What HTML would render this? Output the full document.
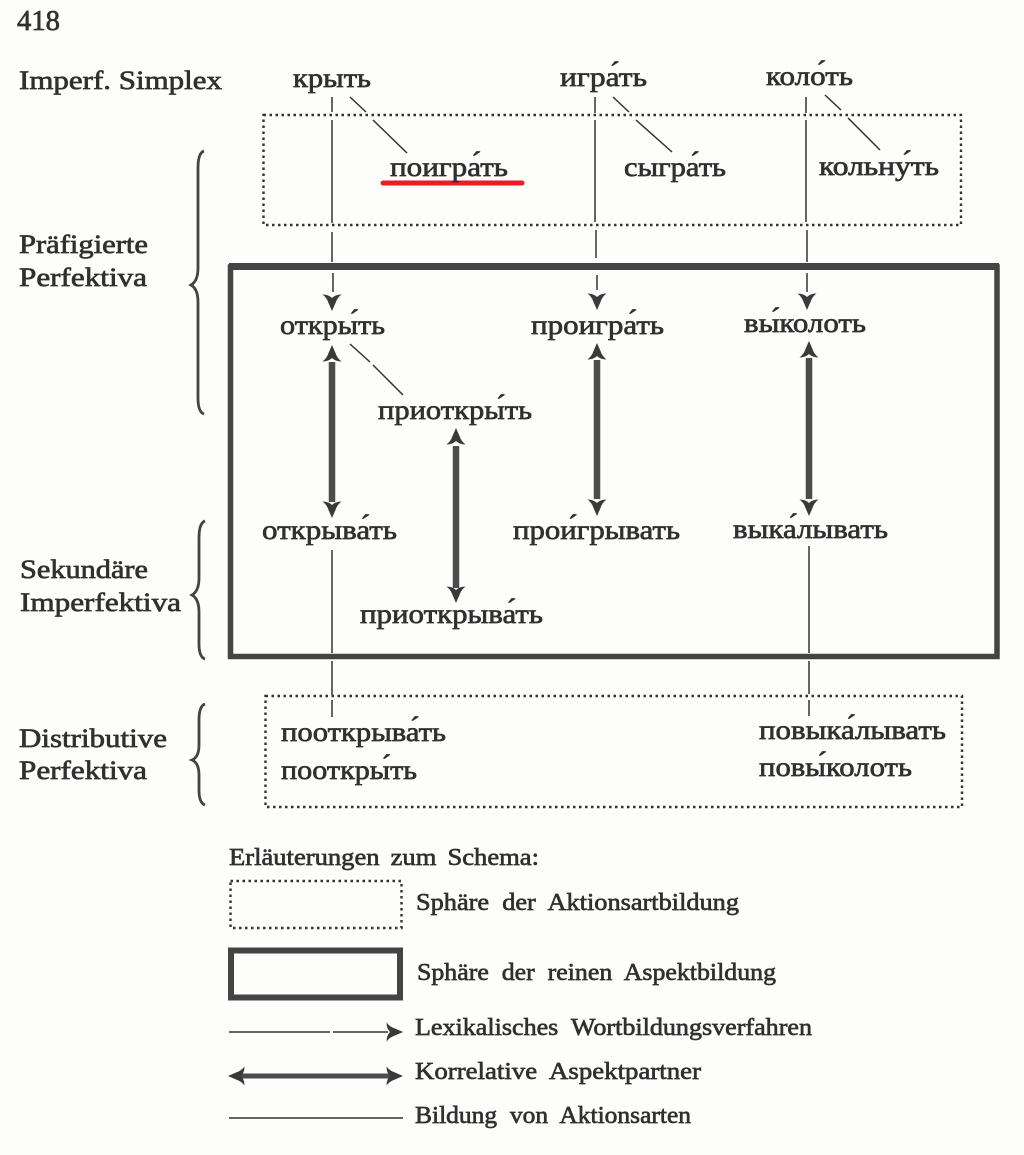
<!DOCTYPE html>
<html><head><meta charset="utf-8"><style>
html,body{margin:0;padding:0;background:#fdfdfb}
svg{display:block}
text{font-family:"Liberation Serif","DejaVu Serif",serif;fill:#303030;font-size:26px;stroke:#303030;stroke-width:.65px}
.c{font-size:27px}
.l{font-size:24px}
</style></head><body>
<svg width="1024" height="1155" viewBox="0 0 1024 1155" xmlns="http://www.w3.org/2000/svg">
<rect width="1024" height="1155" fill="#fdfdfb"/>
<defs>
<path id="h" d="M0 0 L-3.500 8 Q-5 13 -9.500 16.500 Q-3.500 16.500 0 13 Q3.500 16.500 9.500 16.500 Q5 13 3.500 8 Z" fill="#3a3a3a"/>
</defs>
<g fill="none" stroke="#333">
<!-- dotted boxes -->
<g stroke-width="2.400" stroke-dasharray="2.500 3.500">
<rect x="263.500" y="115" width="697.500" height="110"/>
<rect x="265.500" y="696" width="696.500" height="111"/>
<rect x="230.500" y="881" width="171" height="47"/>
</g>
<!-- thick boxes -->
<path d="M230.500 267 H997 V656.500 H230.500 Z" stroke-width="5.500" stroke="#444"/>
<path d="M229 266.500 H999" stroke-width="7" stroke="#444"/>
<rect x="231" y="950.500" width="169" height="47" stroke-width="6" stroke="#444"/>
<!-- thin lines -->
<g stroke-width="1.500">
<path d="M332 97 V112 M332 120 V223 M332 232 V262 M333 273 V292"/>
<path d="M595 97 V113 M595 120 V222 M596 230 V258 M597 275 V290"/>
<path d="M806 97 V113 M806 120 V222 M807 230 V262 M807 273 V292"/>
<path d="M350 97 L366 112 M373 120 L407 153"/>
<path d="M613 97 L629 112 M636 120 L672 152"/>
<path d="M825 95 L841 110 M848 118 L880 150"/>
<path d="M350 344 L370 362 M373 365 L403 395"/>
<path d="M332 550 V653 M332 661 V695 M332 700 V717"/>
<path d="M809 546 V653 M809 661 V694 M809 700 V716"/>
<path d="M229 1032 H330 M333 1032 H388"/><path d="M229 1118 H403"/>
</g>
<!-- thick shafts -->
<g stroke-width="6.500" stroke="#4c4c4c">
<path d="M332 362 V502"/><path d="M456 446 V588"/><path d="M597 360 V499"/><path d="M809 358 V499"/>
</g>
<path d="M236 1076 H396" stroke-width="5" stroke="#4c4c4c"/>
<!-- braces -->
<g stroke-width="2.800" stroke="#444">
<path d="M204 151 Q198 153 198 168 V268 Q198 281 191 285 Q198 289 198 302 V398 Q198 412 204 414"/>
<path d="M205 521 Q199 523 199 538 V578 Q199 591 192 595 Q199 599 199 612 V644 Q199 657 205 659"/>
<path d="M205 704 Q199 706 199 720 V745 Q199 757 192 760 Q199 763 199 775 V790 Q199 803 205 805"/>
</g>
</g>
<!-- arrowheads -->
<use href="#h" transform="translate(332 311) rotate(180)"/>
<use href="#h" transform="translate(597 310) rotate(180)"/>
<use href="#h" transform="translate(807 310) rotate(180)"/>
<use href="#h" transform="translate(332 345)"/><use href="#h" transform="translate(332 518) rotate(180)"/>
<use href="#h" transform="translate(456 428)"/><use href="#h" transform="translate(456 603) rotate(180)"/>
<use href="#h" transform="translate(597 343)"/><use href="#h" transform="translate(597 516) rotate(180)"/>
<use href="#h" transform="translate(809 341)"/><use href="#h" transform="translate(809 516) rotate(180)"/>
<use href="#h" transform="translate(403 1032) rotate(90)"/>
<use href="#h" transform="translate(403 1076) rotate(90)"/>
<use href="#h" transform="translate(228 1076) rotate(-90)"/>
<!-- red underline -->
<path d="M383 183 H522" stroke="#ed1c24" stroke-width="5" stroke-linecap="round" fill="none"/>
<!-- labels -->
<text x="17" y="30" textLength="43" lengthAdjust="spacingAndGlyphs" style="font-size:28px">418</text>
<text x="19" y="89" textLength="203" lengthAdjust="spacingAndGlyphs">Imperf. Simplex</text>
<text x="19" y="253" textLength="129" lengthAdjust="spacingAndGlyphs">Präfigierte</text>
<text x="19" y="286" textLength="128" lengthAdjust="spacingAndGlyphs">Perfektiva</text>
<text x="20" y="578" textLength="128" lengthAdjust="spacingAndGlyphs">Sekundäre</text>
<text x="20" y="611" textLength="161" lengthAdjust="spacingAndGlyphs">Imperfektiva</text>
<text x="19" y="747" textLength="148" lengthAdjust="spacingAndGlyphs">Distributive</text>
<text x="19" y="779" textLength="128" lengthAdjust="spacingAndGlyphs">Perfektiva</text>
<g>
<text class="c" x="293" y="87" textLength="78" lengthAdjust="spacingAndGlyphs">крыть</text>
<text class="c" x="560" y="86" textLength="87" lengthAdjust="spacingAndGlyphs">игра́ть</text>
<text class="c" x="766" y="85" textLength="87" lengthAdjust="spacingAndGlyphs">коло́ть</text>
<text class="c" x="390" y="176" textLength="118" lengthAdjust="spacingAndGlyphs">поигра́ть</text>
<text class="c" x="624" y="176" textLength="102" lengthAdjust="spacingAndGlyphs">сыгра́ть</text>
<text class="c" x="819" y="175" textLength="120" lengthAdjust="spacingAndGlyphs">кольну́ть</text>
<text class="c" x="280" y="334" textLength="105" lengthAdjust="spacingAndGlyphs">откры́ть</text>
<text class="c" x="531" y="334" textLength="133" lengthAdjust="spacingAndGlyphs">проигра́ть</text>
<text class="c" x="744" y="332" textLength="122" lengthAdjust="spacingAndGlyphs">вы́колоть</text>
<text class="c" x="378" y="419" textLength="154" lengthAdjust="spacingAndGlyphs">приоткры́ть</text>
<text class="c" x="262" y="539" textLength="135" lengthAdjust="spacingAndGlyphs">открыва́ть</text>
<text class="c" x="513" y="539" textLength="167" lengthAdjust="spacingAndGlyphs">прои́грывать</text>
<text class="c" x="733" y="538" textLength="155" lengthAdjust="spacingAndGlyphs">выка́лывать</text>
<text class="c" x="360" y="623" textLength="183" lengthAdjust="spacingAndGlyphs">приоткрыва́ть</text>
<text class="c" x="281" y="741" textLength="165" lengthAdjust="spacingAndGlyphs">пооткрыва́ть</text>
<text class="c" x="281" y="779" textLength="136" lengthAdjust="spacingAndGlyphs">пооткры́ть</text>
<text class="c" x="759" y="739" textLength="187" lengthAdjust="spacingAndGlyphs">повыка́лывать</text>
<text class="c" x="759" y="776" textLength="153" lengthAdjust="spacingAndGlyphs">повы́колоть</text>
</g>
<text class="l" x="229" y="865" textLength="310" lengthAdjust="spacingAndGlyphs" style="word-spacing:4px">Erläuterungen zum Schema:</text>
<text class="l" x="416" y="910" textLength="323" lengthAdjust="spacingAndGlyphs" style="word-spacing:6px">Sphäre der Aktionsartbildung</text>
<text class="l" x="417" y="980" textLength="359" lengthAdjust="spacingAndGlyphs" style="word-spacing:6px">Sphäre der reinen Aspektbildung</text>
<text class="l" x="415" y="1035" textLength="397" lengthAdjust="spacingAndGlyphs" style="word-spacing:6px">Lexikalisches Wortbildungsverfahren</text>
<text class="l" x="415" y="1079" textLength="286" lengthAdjust="spacingAndGlyphs" style="word-spacing:6px">Korrelative Aspektpartner</text>
<text class="l" x="415" y="1123" textLength="276" lengthAdjust="spacingAndGlyphs" style="word-spacing:6px">Bildung von Aktionsarten</text>
</svg>
</body></html>
